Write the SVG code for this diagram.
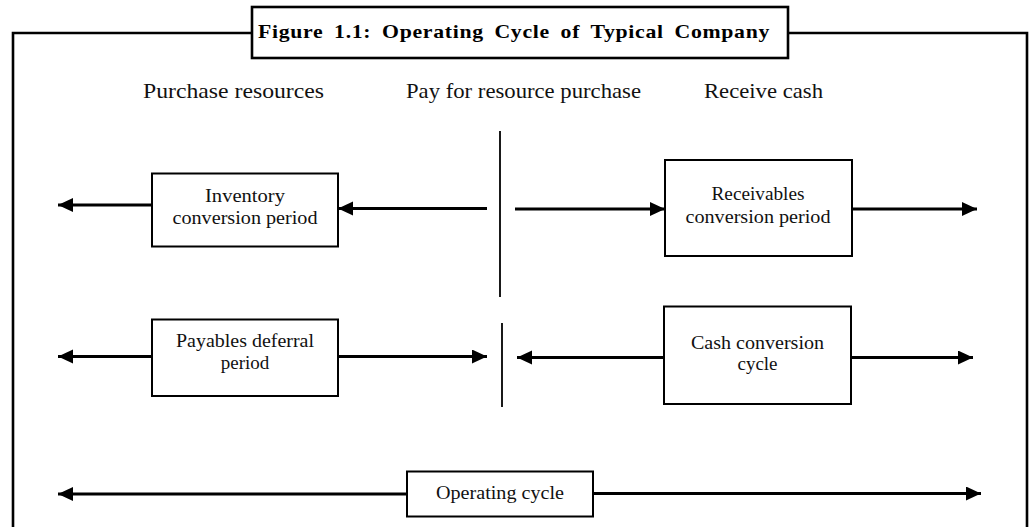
<svg xmlns="http://www.w3.org/2000/svg" width="1029" height="527" viewBox="0 0 1029 527">
<style>
  .frame{fill:none;stroke:#000;stroke-width:2.6}
  .box{fill:#fff;stroke:#000;stroke-width:2}
  .conn{fill:none;stroke:#000;stroke-width:3}
  .div{fill:none;stroke:#000;stroke-width:1.8}
  .t{font-family:"Liberation Serif","Times New Roman",serif;font-size:19px;fill:#111;text-anchor:middle}
  .h{font-family:"Liberation Serif","Times New Roman",serif;font-size:21px;fill:#111}
  .title{font-family:"Liberation Serif","Times New Roman",serif;font-size:19px;font-weight:bold;fill:#000;word-spacing:4px;letter-spacing:0.6px}
</style>
<defs>
  <marker id="ah" markerUnits="userSpaceOnUse" markerWidth="16" markerHeight="15" refX="15" refY="7" orient="auto">
    <path d="M0,0 L15,7 L0,14 z" fill="#000"/>
  </marker>
</defs>
<rect width="1029" height="527" fill="#fff"/>
<g id="frame">
  <polyline class="frame" points="13,530 13,33 252,33"/>
  <polyline class="frame" points="788,33 1027,33 1027,530"/>
  <rect class="frame" x="252" y="7" width="536" height="51" fill="#fff"/>
  <text class="title" x="258" y="38" textLength="512" lengthAdjust="spacingAndGlyphs">Figure 1.1: Operating Cycle of Typical Company</text>
</g>
<g id="headers">
  <text class="h" x="143" y="98" textLength="181" lengthAdjust="spacingAndGlyphs">Purchase resources</text>
  <text class="h" x="406" y="98" textLength="235" lengthAdjust="spacingAndGlyphs">Pay for resource purchase</text>
  <text class="h" x="704" y="98" textLength="119" lengthAdjust="spacingAndGlyphs">Receive cash</text>
</g>
<g id="connectors">
  <line class="div" x1="500" y1="131" x2="500" y2="297"/>
  <line class="div" x1="502" y1="323" x2="502" y2="407"/>
  <line class="conn" x1="152" y1="205" x2="58" y2="205" marker-end="url(#ah)"/>
  <line class="conn" x1="487" y1="208.5" x2="338" y2="208.5" marker-end="url(#ah)"/>
  <line class="conn" x1="515" y1="209" x2="665" y2="209" marker-end="url(#ah)"/>
  <line class="conn" x1="852" y1="209" x2="977" y2="209" marker-end="url(#ah)"/>
  <line class="conn" x1="152" y1="356.5" x2="58" y2="356.5" marker-end="url(#ah)"/>
  <line class="conn" x1="338" y1="356.5" x2="487" y2="356.5" marker-end="url(#ah)"/>
  <line class="conn" x1="664" y1="357.5" x2="517" y2="357.5" marker-end="url(#ah)"/>
  <line class="conn" x1="851" y1="357.5" x2="973" y2="357.5" marker-end="url(#ah)"/>
  <line class="conn" x1="407" y1="494" x2="58" y2="494" marker-end="url(#ah)"/>
  <line class="conn" x1="593" y1="493.5" x2="981" y2="493.5" marker-end="url(#ah)"/>
</g>
<g id="inventory">
  <rect class="box" x="152" y="173.5" width="186" height="73"/>
  <text class="t" x="245" y="201.5" textLength="80" lengthAdjust="spacingAndGlyphs">Inventory</text>
  <text class="t" x="245" y="223.5" textLength="145" lengthAdjust="spacingAndGlyphs">conversion period</text>
</g>
<g id="receivables">
  <rect class="box" x="665" y="160" width="187" height="96"/>
  <text class="t" x="758" y="200" textLength="93" lengthAdjust="spacingAndGlyphs">Receivables</text>
  <text class="t" x="758" y="222.5" textLength="145" lengthAdjust="spacingAndGlyphs">conversion period</text>
</g>
<g id="payables">
  <rect class="box" x="152" y="319.5" width="186" height="76.5"/>
  <text class="t" x="245" y="346.5" textLength="138" lengthAdjust="spacingAndGlyphs">Payables deferral</text>
  <text class="t" x="245" y="369">period</text>
</g>
<g id="cashconv">
  <rect class="box" x="664" y="306.5" width="187" height="97.5"/>
  <text class="t" x="757.5" y="348.5" textLength="133" lengthAdjust="spacingAndGlyphs">Cash conversion</text>
  <text class="t" x="757.5" y="370">cycle</text>
</g>
<g id="operating">
  <rect class="box" x="407" y="471.5" width="186" height="45"/>
  <text class="t" x="500" y="499" textLength="128" lengthAdjust="spacingAndGlyphs">Operating cycle</text>
</g>
</svg>
